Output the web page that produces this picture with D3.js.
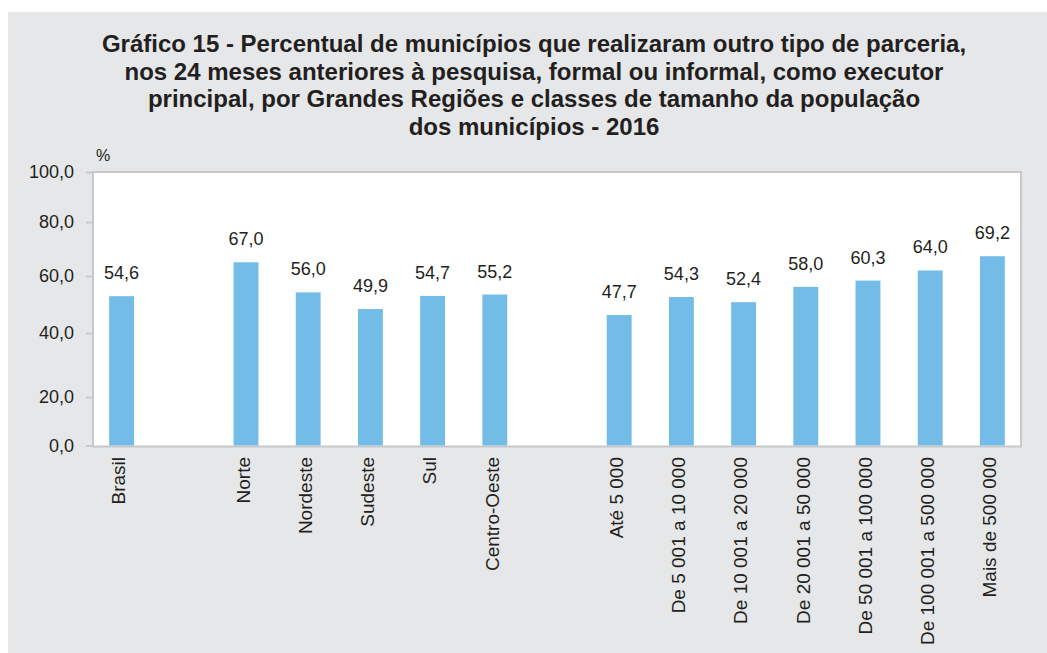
<!DOCTYPE html>
<html lang="pt">
<head>
<meta charset="UTF-8">
<title>Gráfico 15</title>
<script src="https://cdn.jsdelivr.net/npm/d3@7"></script>
<style>
  body { margin: 0; background: #fff; }
  text { font-family: "Liberation Sans", Arial, Helvetica, sans-serif; fill: #231f20; }
</style>
</head>
<body>
<script>
    var titleLines = [
        "Gráfico 15 - Percentual de municípios que realizaram outro tipo de parceria,",
        "nos 24 meses anteriores à pesquisa, formal ou informal, como executor",
        "principal, por Grandes Regiões e classes de tamanho da população",
        "dos municípios - 2016"
    ];

    var brasilCats = ["Brasil"];
    var brasilValues = [54.6];
    var regionCats = ["Norte", "Nordeste", "Sudeste", "Sul", "Centro-Oeste"];
    var regionValues = [67.0, 56.0, 49.9, 54.7, 55.2];
    var sizeCats = ["Até 5 000", "De 5 001 a 10 000", "De 10 001 a 20 000", "De 20 001 a 50 000",
        "De 50 001 a 100 000", "De 100 001 a 500 000", "Mais de 500 000"];
    var sizeValues = [47.7, 54.3, 52.4, 58.0, 60.3, 64.0, 69.2];
    var yTicks = [0, 20, 40, 60, 80, 100];

    var width = 1047;
    var height = 653;
    var plot = {left: 93, right: 1021, top: 172, bottom: 445.5};

    var fmt = function (v) { return d3.format(".1f")(v).replace(".", ","); };

    // build bar list, with an empty slot between the groups
    var groups = [[brasilCats, brasilValues], [regionCats, regionValues], [sizeCats, sizeValues]];
    var slots = [];
    var bars = [];
    groups.forEach(function (g, gi) {
        if (gi > 0) slots.push("gap" + gi);
        g[0].forEach(function (c, i) {
            slots.push(c);
            bars.push({name: c, value: g[1][i]});
        });
    });

    var svg = d3.select("body").append("svg")
        .attr("width", width)
        .attr("height", height);

    svg.append("rect")
        .attr("x", 8).attr("y", 12)
        .attr("width", width - 8).attr("height", height - 12)
        .attr("fill", "#e6e7e8");

    // title
    svg.append("g").selectAll("text")
        .data(titleLines)
        .join("text")
        .attr("x", 534)
        .attr("y", function (d, i) { return 52 + i * 27.7; })
        .attr("text-anchor", "middle")
        .attr("font-size", "24px")
        .attr("font-weight", "bold")
        .text(function (d) { return d; });

    var xScale = d3.scaleBand()
        .domain(slots)
        .range([plot.left, plot.right])
        .paddingInner(0.6)
        .paddingOuter(0.26);

    var yScale = d3.scaleLinear()
        .domain([0, 100])
        .range([plot.bottom, plot.top]);

    // the source figure spaces its tick marks unevenly
    var yAxisScale = d3.scaleLinear()
        .domain(yTicks)
        .range([445.5, 397, 333, 276, 222, 172]);

    svg.append("rect")
        .attr("x", plot.left)
        .attr("y", plot.top)
        .attr("width", plot.right - plot.left)
        .attr("height", plot.bottom - plot.top + 1)
        .attr("fill", "#fff")
        .attr("stroke", "#c7c8ca")
        .attr("stroke-width", 2);

    var yAxis = svg.append("g")
        .attr("transform", "translate(" + plot.left + ",0)")
        .call(d3.axisLeft(yAxisScale).tickValues(yTicks).tickSize(7).tickPadding(12).tickFormat(fmt));
    yAxis.select(".domain").remove();
    yAxis.selectAll(".tick line").attr("stroke", "#c7c8ca").attr("stroke-width", 2);
    yAxis.selectAll(".tick text")
        .attr("font-size", "18px")
        .attr("font-family", "Liberation Sans, Arial, sans-serif")
        .attr("fill", "#231f20");

    svg.append("text")
        .attr("x", 96)
        .attr("y", 161)
        .attr("font-size", "16px")
        .text("%");

    svg.append("g").selectAll("rect")
        .data(bars)
        .join("rect")
        .attr("x", function (d) { return xScale(d.name); })
        .attr("y", function (d) { return yScale(d.value); })
        .attr("width", xScale.bandwidth())
        .attr("height", function (d) { return yScale(0) - yScale(d.value); })
        .attr("fill", "#74bce8");

    svg.append("g").selectAll("text")
        .data(bars)
        .join("text")
        .attr("x", function (d) { return xScale(d.name) + xScale.bandwidth() / 2; })
        .attr("y", function (d) { return yScale(d.value) - 17; })
        .attr("text-anchor", "middle")
        .attr("font-size", "18px")
        .text(function (d) { return fmt(d.value); });

    svg.append("g").selectAll("text")
        .data(bars)
        .join("text")
        .attr("transform", function (d) {
            return "translate(" + (xScale(d.name) + xScale.bandwidth() / 2) + ",457) rotate(-90)";
        })
        .attr("dy", "0.2em")
        .attr("text-anchor", "end")
        .attr("font-size", "19px")
        .text(function (d) { return d.name; });
</script>
</body>
</html>
